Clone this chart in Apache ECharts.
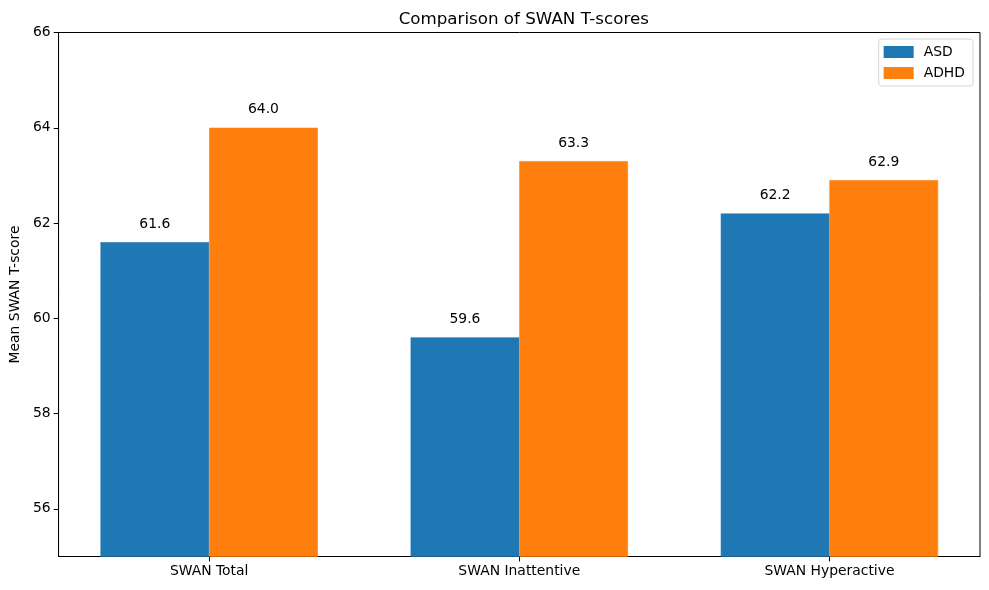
<!DOCTYPE html>
<html>
<head>
<meta charset="utf-8">
<script src="https://cdn.jsdelivr.net/npm/echarts@6/dist/echarts.min.js"></script>
<style>
html,body{margin:0;padding:0;background:#fff;}
#chart{width:989px;height:590px;}
</style>
</head>
<body>
<div id="chart"></div>
<script>
const categories = ['SWAN Total', 'SWAN Inattentive', 'SWAN Hyperactive'];
const asdValues = [61.6, 59.6, 62.2];
const adhdValues = [64.0, 63.3, 62.9];
const yTicks = [56, 58, 60, 62, 64, 66];
const xTicks = [0, 1, 2];

const FONT = 'DejaVu Sans';
const gridLeft = 57.5, gridRight = 9, gridTop = 32.5, gridBottom = 33.5;
const W = 989;
const xMin = -0.4855, xMax = 2.4855;
const barW = 0.35;
const plotW = W - gridLeft - gridRight;
const barPx = plotW * barW / (xMax - xMin);

const chart = echarts.init(document.getElementById('chart'), null, {renderer: 'canvas'});

function mk(vals) { return vals.map((v, i) => [xTicks[i], v]); }

const labelStyle = {
  show: true, position: 'top', distance: 11,
  fontFamily: FONT, fontSize: 13.9, color: '#000',
  formatter: p => p.value[1].toFixed(1)
};

chart.setOption({
  animation: false,
  backgroundColor: '#fff',
  textStyle: {fontFamily: FONT},
  title: {
    text: 'Comparison of SWAN T-scores',
    left: gridLeft + plotW / 2, textAlign: 'center', top: 6,
    textStyle: {fontFamily: FONT, fontSize: 16.7, fontWeight: 'normal', color: '#000'}
  },
  legend: {
    orient: 'vertical', right: 16, top: 39,
    data: ['ASD', 'ADHD'],
    icon: 'rect', itemWidth: 28, itemHeight: 10, itemGap: 7,
    padding: [6, 8, 6, 5],
    borderColor: '#d5d5d5', borderWidth: 1, borderRadius: 3,
    backgroundColor: 'rgba(255,255,255,0.8)',
    textStyle: {fontFamily: FONT, fontSize: 13.9, color: '#000', padding: [0, 0, 0, 6]}
  },
  grid: {
    left: gridLeft, right: gridRight, top: gridTop, bottom: gridBottom,
    show: true, borderColor: '#000', borderWidth: 1, backgroundColor: 'transparent'
  },
  xAxis: {
    type: 'value', min: xMin, max: xMax,
    splitLine: {show: false},
    axisLine: {show: true, onZero: false, lineStyle: {color: '#000', width: 1}},
    axisTick: {show: true, customValues: xTicks, length: 4.9, lineStyle: {color: '#000'}},
    axisLabel: {
      customValues: xTicks, margin: 8,
      formatter: v => categories[Math.round(v)] || '',
      fontFamily: FONT, fontSize: 13.9, color: '#000'
    }
  },
  yAxis: {
    type: 'value', min: 55, max: 66,
    name: 'Mean SWAN T-score', nameLocation: 'middle', nameGap: 35,
    nameTextStyle: {fontFamily: FONT, fontSize: 13.9, color: '#000'},
    splitLine: {show: false},
    axisLine: {show: true, onZero: false, lineStyle: {color: '#000', width: 1}},
    axisTick: {show: true, customValues: yTicks, length: 4.9, lineStyle: {color: '#000'}},
    axisLabel: {
      customValues: yTicks, margin: 8,
      fontFamily: FONT, fontSize: 13.9, color: '#000'
    }
  },
  series: [
    {
      name: 'ASD', type: 'bar', data: mk(asdValues),
      barWidth: barPx, barGap: '0%', z: 2,
      itemStyle: {color: '#1f77b4', borderColor: '#1f77b4', borderWidth: 0.6},
      label: labelStyle
    },
    {
      name: 'ADHD', type: 'bar', data: mk(adhdValues),
      barWidth: barPx, barGap: '0%', z: 2,
      itemStyle: {color: '#ff7f0e', borderColor: '#ff7f0e', borderWidth: 0.6},
      label: labelStyle
    }
  ]
});
</script>
</body>
</html>
